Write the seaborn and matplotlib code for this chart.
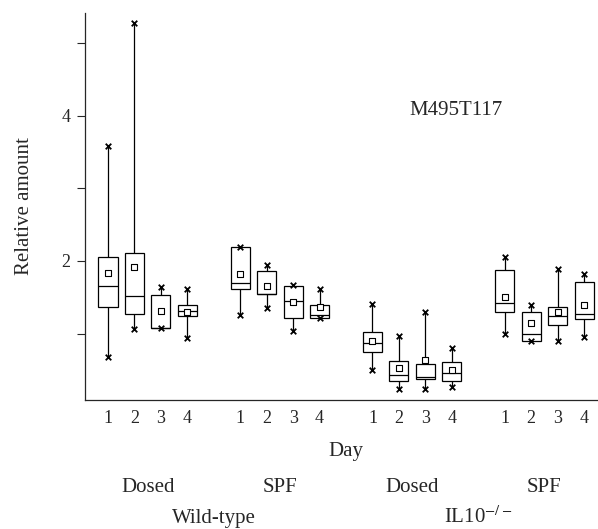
import numpy as np
import pandas as pd
import matplotlib
matplotlib.use('Agg')
import matplotlib.pyplot as plt
import seaborn as sns

# Box statistics (M495T117), 4 groups x 4 days
days = ['1', '2', '3', '4']
treatments = ['Dosed', 'SPF', 'Dosed', 'SPF']
genotypes = ['Wild-type', 'IL10$^{-/-}$']

lows = [0.67, 1.06, 1.08, 0.94,
        1.26, 1.35, 1.04, 1.22,
        0.49, 0.24, 0.23, 0.26,
        1.00, 0.89, 0.89, 0.95]
q1s = [1.36, 1.27, 1.08, 1.24,
       1.62, 1.54, 1.22, 1.22,
       0.74, 0.34, 0.37, 0.35,
       1.29, 0.89, 1.12, 1.20]
medians = [1.66, 1.52, 1.08, 1.31,
           1.70, 1.54, 1.45, 1.26,
           0.87, 0.43, 0.40, 0.46,
           1.42, 1.00, 1.24, 1.27]
q3s = [2.05, 2.11, 1.53, 1.39,
       2.19, 1.86, 1.65, 1.39,
       1.02, 0.62, 0.58, 0.61,
       1.87, 1.29, 1.36, 1.71]
highs = [3.59, 5.28, 1.64, 1.61,
         2.19, 1.94, 1.67, 1.61,
         1.41, 0.96, 1.30, 0.80,
         2.05, 1.39, 1.89, 1.82]
means = [1.84, 1.92, 1.31, 1.30,
         1.82, 1.65, 1.43, 1.37,
         0.89, 0.53, 0.63, 0.50,
         1.50, 1.14, 1.29, 1.39]

# position of each box: groups of four days with a gap between groups
pos = [g * 5 + d for g in range(len(treatments)) for d in range(len(days))]

# five points per box -> seaborn quartiles land exactly on q1/median/q3
rows = []
for i, p in enumerate(pos):
    for v in [lows[i], q1s[i], medians[i], q3s[i], highs[i]]:
        rows.append({'pos': p, 'value': v})
df = pd.DataFrame(rows)

sns.set_style('ticks')
plt.rcParams['font.family'] = ['Liberation Serif', 'DejaVu Serif']
plt.rcParams['mathtext.fontset'] = 'stix'

fig = plt.figure(figsize=(5.98, 5.29), dpi=100)
ax = fig.add_axes([85 / 598, 1 - 400 / 529, 512 / 598, 387 / 529])

sns.boxplot(data=df, x='pos', y='value', native_scale=True, whis=(0, 100),
            width=0.72, color='white', linecolor='black', linewidth=0.9,
            showcaps=False, showfliers=False, ax=ax)
sns.scatterplot(x=pos + pos, y=lows + highs, marker='x', color='black',
                s=16, linewidth=1.3, ax=ax, zorder=4, legend=False)
sns.scatterplot(x=pos, y=means, marker='s', facecolor='white',
                edgecolor='black', s=14, linewidth=0.8, ax=ax, zorder=4,
                legend=False)

ax.set_xlim(-0.87, 18.49)
ax.set_ylim(0.083, 5.42)
ax.set_xticks(pos)
ax.set_xticklabels(days * len(treatments), fontsize=13)
ax.set_yticks([1, 2, 3, 4, 5])
ax.set_yticklabels(['', '2', '', '4', ''], fontsize=13)
ax.tick_params(axis='x', length=0, pad=7)
ax.tick_params(axis='y', length=5.5, width=0.8, pad=5, direction='out')
ax.set_xlabel('')
ax.set_ylabel('Relative amount', fontsize=15)
ax.yaxis.set_label_coords(-0.10, 0.5)
for s in ['top', 'right']:
    ax.spines[s].set_visible(False)
for s in ['left', 'bottom']:
    ax.spines[s].set_linewidth(0.9)

ax.text(13.16, 4.08, 'M495T117', ha='center', va='center', fontsize=15)

tr = ax.get_xaxis_transform()
ax.text(9, -0.1447, 'Day', transform=tr, ha='center', va='baseline', fontsize=15)
for g, t in enumerate(treatments):
    ax.text(g * 5 + 1.5, -0.238, t, transform=tr, ha='center',
            va='baseline', fontsize=15)
for k, gname in enumerate(genotypes):
    ax.text(k * 10 + 4, -0.3178, gname, transform=tr, ha='center',
            va='baseline', fontsize=15)

fig.savefig('out.png', dpi=100)
